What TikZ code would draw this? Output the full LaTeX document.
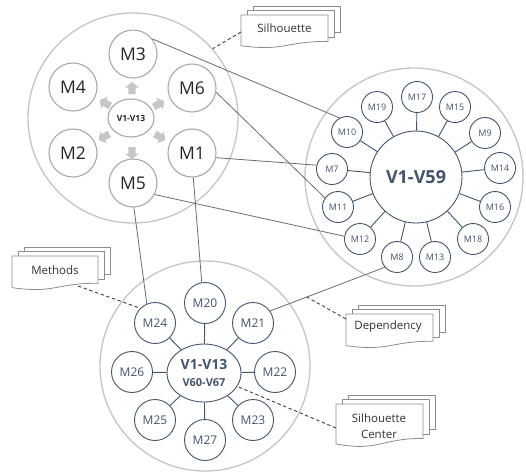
\documentclass[tikz,border=0pt]{standalone}
\usepackage{fontspec}
\setmainfont{Open Sans}
\usetikzlibrary{shapes.geometric}

\definecolor{ringgrey}{HTML}{C4C4C4}
\definecolor{cellgrey}{HTML}{A8A8A8}
\definecolor{slate}{HTML}{44546A}
\definecolor{linkgrey}{HTML}{6B6B6B}
\definecolor{arrowgrey}{HTML}{C6C6C6}
\definecolor{docgrey}{HTML}{8C8C8C}

\tikzset{
  ring/.style={circle, draw=ringgrey, line width=1.3pt, inner sep=0pt},
  bigcell/.style={circle, draw=cellgrey, line width=1.1pt, fill=white, inner sep=0pt,
    minimum size=48pt, text=black!85, font=\fontsize{17.5}{17.5}\selectfont},
  hubgrey/.style={ellipse, draw=cellgrey, line width=1.1pt, fill=white, inner sep=0pt,
    minimum width=46pt, minimum height=38pt, text=black!85,
    font=\bfseries\fontsize{8.5}{9}\selectfont},
  pusher/.style={fill=arrowgrey, draw=none},
  smallcell/.style={circle, draw=slate, line width=0.9pt, fill=white, inner sep=0pt,
    minimum size=31pt, text=slate, font=\fontsize{9}{9}\selectfont},
  midcell/.style={circle, draw=slate, line width=0.9pt, fill=white, inner sep=0pt,
    minimum size=41pt, text=slate, font=\fontsize{12}{12}\selectfont},
  hubslate/.style={draw=slate, line width=0.9pt, fill=white, inner sep=0pt, text=slate},
  spoke/.style={draw=slate, line width=0.9pt},
  link/.style={draw=linkgrey, line width=0.8pt},
  notelink/.style={draw=black!75, line width=0.9pt, dash pattern=on 3.5pt off 2.5pt},
  docline/.style={draw=docgrey, line width=0.8pt, fill=white},
  doctext/.style={text=black!80, font=\fontsize{11.5}{17}\selectfont, align=center},
}

% stacked sheets: #1,#2 top-left of front sheet, #3 width, #4 height
\newcommand\docstack[4]{%
  \def\sdx{6}\def\sdy{4.3}%
  \draw[docline] ({#1+2*\sdx},{#2-\sdy}) -- ({#1+2*\sdx},{#2-2*\sdy})
    -- ({#1+#3+2*\sdx},{#2-2*\sdy}) -- ({#1+#3+2*\sdx},{#2+0.8*#4-2*\sdy})
    -- ({#1+#3+\sdx},{#2+0.8*#4-2*\sdy});
  \draw[docline] ({#1+\sdx},{#2}) -- ({#1+\sdx},{#2-\sdy})
    -- ({#1+#3+\sdx},{#2-\sdy}) -- ({#1+#3+\sdx},{#2+0.8*#4-\sdy})
    -- ({#1+#3},{#2+0.8*#4-\sdy});
  \draw[docline] (#1,#2) -- ({#1+#3},#2) -- ({#1+#3},{#2+0.8*#4})
    .. controls ({#1+0.5*#3},{#2+0.8*#4}) and ({#1+0.5*#3},{#2+1.11*#4})
    .. (#1,{#2+0.93*#4}) -- cycle;
}

\begin{document}
\begin{tikzpicture}[x=1pt,y=-1pt]
\useasboundingbox (0,0) rectangle (526,472);

% ---- outer rings
\node[ring, minimum size=210pt] (ringA) at (133,118) {};
\node[ring, minimum size=218pt] (ringB) at (414,177) {};
\node[ring, minimum size=210pt] (ringC) at (205,366) {};

% ---- cluster A
\node[hubgrey] (hubA) at (131,118) {V1-V13};
\node[bigcell] (M3) at (133,54) {M3};
\node[bigcell] (M4) at (73,87) {M4};
\node[bigcell] (M6) at (192,88) {M6};
\node[bigcell] (M2) at (73,153) {M2};
\node[bigcell] (M1) at (192,153) {M1};
\node[bigcell] (M5) at (133,183) {M5};
% block arrows pushing outward from the hub
\foreach \x/\y/\a in {132/88/90, 159/104/30, 160/137/-30, 132/153/-90,
    104/137/-150, 105/103/150}
  \fill[pusher, shift={(\x,\y)}, rotate=\a]
    (-6,-3.6) -- (0.5,-3.6) -- (0.5,-7) -- (6,0) -- (0.5,7) -- (0.5,3.6)
    -- (-6,3.6) -- cycle;

% ---- cluster B
\node[hubslate, circle, minimum size=92pt, font=\bfseries\fontsize{18}{18}\selectfont]
  (hubB) at (416,177) {V1-V59};
\foreach \n/\x/\y in {M17/417/97, M19/377/107, M15/455/107, M10/347/132,
    M9/485/133, M7/332/169, M14/500/168, M11/338/207, M16/495/207,
    M12/360/239, M18/473/239, M8/397/257, M13/435/257}
  \node[smallcell] (\n) at (\x,\y) {\n};
\foreach \n in {M17,M19,M15,M10,M9,M7,M14,M11,M16,M12,M18,M8,M13}
  \draw[spoke] (hubB) -- (\n);

% ---- cluster C
\node[hubslate, ellipse, minimum width=74pt, minimum height=58pt, align=center]
  (hubC) at (204,373)
  {{\bfseries\fontsize{14}{14}\selectfont V1-V13}\\[5pt]
   {\bfseries\fontsize{11}{11}\selectfont V60-V67}};
\foreach \n/\x/\y in {M20/205/303, M24/155/323, M21/253/323, M26/132/372,
    M22/275/372, M25/155/420, M23/253/420, M27/205/440}
  \node[midcell] (\n) at (\x,\y) {\n};
\foreach \n in {M20,M24,M21,M26,M22,M25,M23,M27}
  \draw[spoke] (hubC) -- (\n);

% ---- links between clusters
\draw[link] (M3.38) -- (M10.118);
\draw[link] (M6.-10) -- (M11.145);
\draw[link] (M1.-11) -- (M7.166);
\draw[link] (M5.-28) -- (M12.170);
\draw[link] (M5.-88) -- (M24.113);
\draw[link] (M1.-87) -- (M20.99);
\draw[link] (M8.220) -- (M21.35) coordinate[pos=0.68] (depTap);

% ---- annotation sheets
\docstack{241}{15}{87}{33}
\node[doctext] (tSil) at (284.5,28) {Silhouette};
\coordinate (sSil) at (241,32);
\docstack{12}{256}{86}{34}
\node[doctext] (tMet) at (55,270) {Methods};
\coordinate (sMet) at (78,286);
\docstack{346}{314}{87}{34}
\node[doctext] (tDep) at (388,327) {Dependency};
\coordinate (sDep) at (346,319);
\docstack{336}{404}{87}{43}
\node[doctext, font=\fontsize{11.5}{16}\selectfont] (tCen) at (379,426) {Silhouette\\Center};
\coordinate (sCen) at (336,428);

\draw[notelink] (sSil) -- (ringA.41);
\draw[notelink] (sMet) -- (M24.135);
\draw[notelink] (sDep) -- (depTap);
\draw[notelink] (sCen) -- (hubC.-22);
\end{tikzpicture}
\end{document}
